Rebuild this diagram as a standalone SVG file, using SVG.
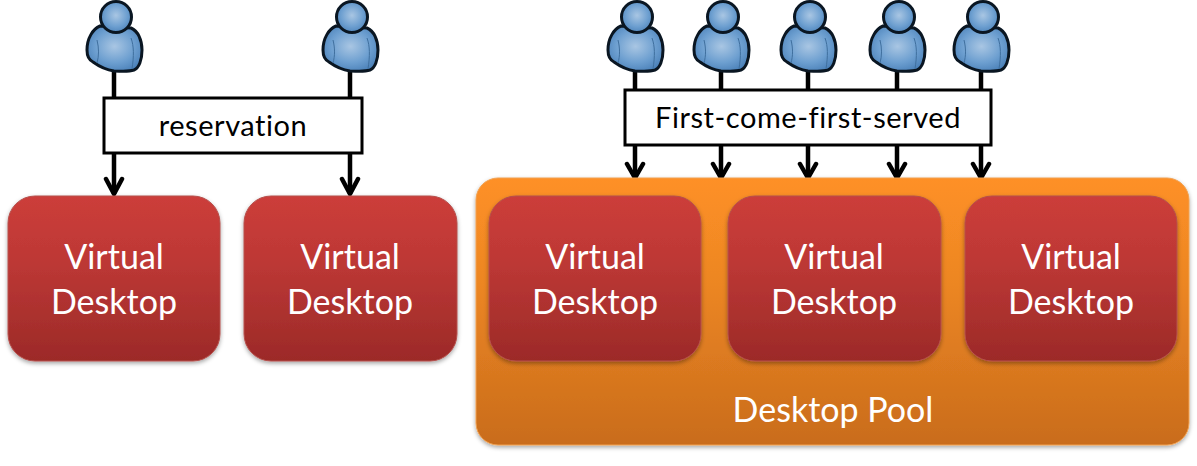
<svg xmlns="http://www.w3.org/2000/svg" xmlns:xlink="http://www.w3.org/1999/xlink" width="1197" height="466" viewBox="0 0 1197 466">
<style>
text{font-family:"Lato","Open Sans","Liberation Sans",sans-serif;text-anchor:middle;font-variant-ligatures:none}
.vd{fill:url(#red);stroke:#b5504c;stroke-width:1;filter:url(#sh)}
.vt{fill:#fff;font-size:34px}
.lb{fill:#000;font-size:29px;letter-spacing:0.55px}
.bx{fill:#fff;stroke:#000;stroke-width:3}
.ln{stroke:#000;stroke-width:4.5;fill:none}
.hd{fill:none;stroke:#000;stroke-width:4.5;stroke-linecap:round;stroke-linejoin:round}
.ub{fill:url(#blue);stroke:#0a1622;stroke-width:3;stroke-linejoin:round}
.uh{fill:url(#blue);stroke:#0a1622;stroke-width:3}
.uf{fill:none;stroke:#3f6f9e;stroke-width:1}
</style>
<defs>
<linearGradient id="red" x1="0" y1="0" x2="0" y2="1"><stop offset="0" stop-color="#cc3d3a"/><stop offset="0.4" stop-color="#bd3835"/><stop offset="1" stop-color="#9c2a28"/></linearGradient>
<linearGradient id="org" x1="0" y1="0" x2="0" y2="1"><stop offset="0" stop-color="#fe9026"/><stop offset="0.4" stop-color="#ec8623"/><stop offset="1" stop-color="#c96c1c"/></linearGradient>
<radialGradient id="blue" cx="0.5" cy="0.45" r="0.6"><stop offset="0" stop-color="#a9c6e3"/><stop offset="0.6" stop-color="#6d9fd0"/><stop offset="1" stop-color="#4a80b8"/></radialGradient>
<filter id="sh" x="-5%" y="-5%" width="110%" height="110%"><feDropShadow dx="0" dy="2" stdDeviation="2" flood-color="#000" flood-opacity="0.35"/></filter>
<g id="user">
<path class="ub" d="M-14 26C-21 29-27 38-27 50C-27 56-25 60-21 62C-14 67-7 70 0 71C7 71 14 72 20 70C25 68 28 60 28 50C28 40 24 31 17 28Z"/>
<path class="uf" d="M-17 40C-15 48-15 56-17 63M17 38C20 46 20 56 18 69"/>
<circle class="uh" cx="2" cy="17" r="15.5"/>
</g>
</defs>
<g id="connectors">
<path class="ln" d="M114 72V98M350 72V98M114 153V194M350 153V194M635 68V90M721 68V90M808 68V90M897 68V90M981 68V90M635 145V178M721 145V178M808 145V178M897 145V178M981 145V178"/>
<path class="hd" d="M106 179L114 194L122 179M342 179L350 194L358 179M627 164L635 178L643 164M713 164L721 178L729 164M800 164L808 178L816 164M889 164L897 178L905 164M973 164L981 178L989 164"/>
</g>
<g id="user1"><use xlink:href="#user" href="#user" x="114"/></g>
<g id="user2"><use xlink:href="#user" href="#user" x="350"/></g>
<g id="user3"><use xlink:href="#user" href="#user" x="635"/></g>
<g id="user4"><use xlink:href="#user" href="#user" x="721"/></g>
<g id="user5"><use xlink:href="#user" href="#user" x="808"/></g>
<g id="user6"><use xlink:href="#user" href="#user" x="897"/></g>
<g id="user7"><use xlink:href="#user" href="#user" x="981"/></g>
<g id="reservation"><rect class="bx" x="104" y="98" width="258" height="55"/><text class="lb" x="233" y="136">reservation</text></g>
<g id="fcfs"><rect class="bx" x="625" y="90" width="366" height="55"/><text class="lb" x="808" y="128">First-come-first-served</text></g>
<g id="pool"><rect x="476" y="178" width="713" height="267" rx="22" fill="url(#org)" stroke="#f0a050" stroke-width="1" filter="url(#sh)"/><text x="833" y="422" fill="#fff" font-size="34">Desktop Pool</text></g>
<g id="vd1"><rect class="vd" x="8" y="196" width="212" height="165" rx="27"/><text class="vt" x="114" y="269">Virtual</text><text class="vt" x="114" y="314">Desktop</text></g>
<g id="vd2"><rect class="vd" x="244" y="196" width="213" height="165" rx="27"/><text class="vt" x="350" y="269">Virtual</text><text class="vt" x="350" y="314">Desktop</text></g>
<g id="vd3"><rect class="vd" x="489" y="196" width="212" height="165" rx="27"/><text class="vt" x="595" y="269">Virtual</text><text class="vt" x="595" y="314">Desktop</text></g>
<g id="vd4"><rect class="vd" x="728" y="196" width="213" height="165" rx="27"/><text class="vt" x="834" y="269">Virtual</text><text class="vt" x="834" y="314">Desktop</text></g>
<g id="vd5"><rect class="vd" x="965" y="196" width="212" height="165" rx="27"/><text class="vt" x="1071" y="269">Virtual</text><text class="vt" x="1071" y="314">Desktop</text></g>
</svg>
